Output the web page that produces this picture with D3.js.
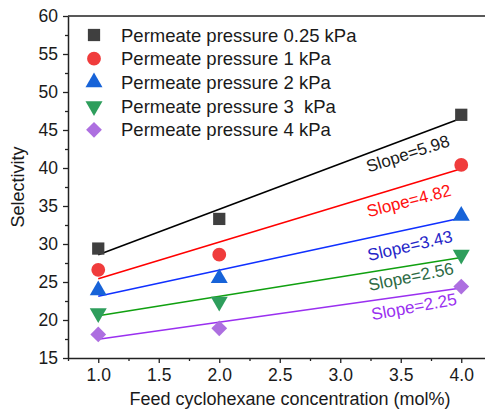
<!DOCTYPE html>
<html>
<head>
<meta charset="utf-8">
<script src="https://cdn.jsdelivr.net/npm/d3@7"></script>
<style>
  html, body { margin: 0; padding: 0; background: #fff; }
  svg { display: block; overflow: hidden; }
  text { font-family: Arial, "Liberation Sans", sans-serif; white-space: pre; }
</style>
</head>
<body>
<svg id="chart" width="485" height="412"></svg>
<script>
// Feed concentrations (mol%)
const concentrations = [1.0, 2.0, 4.0];

// Series names and measured selectivity at each concentration
const seriesNames = [
  "Permeate pressure 0.25 kPa",
  "Permeate pressure 1 kPa",
  "Permeate pressure 2 kPa",
  "Permeate pressure 3  kPa",
  "Permeate pressure 4 kPa"
];
const sel025 = [29.4, 33.3, 47.0];
const sel1   = [26.6, 28.6, 40.4];
const sel2   = [23.9, 25.5, 33.7];
const sel3   = [20.9, 22.4, 28.6];
const sel4   = [18.1, 18.9, 24.4];

// Fitted slopes of the linear trend lines
const slopes = [5.98, 4.82, 3.43, 2.56, 2.25];

// Axis ticks
const xTicks = [1.0, 1.5, 2.0, 2.5, 3.0, 3.5, 4.0];
const yTicks = [15, 20, 25, 30, 35, 40, 45, 50, 55, 60];

const seriesValues = [sel025, sel1, sel2, sel3, sel4];

// Marker shape, turn angle, colours and slope-label placement per series
const style = [
  { shape: d3.symbolSquare,   size: 150, turn: 0,   fill: "#3f3f3f", line: "#000000", text: "#1a1a1a", rot: -18,   lx: 408, ly: 154 },
  { shape: d3.symbolCircle,   size: 150, turn: 0,   fill: "#f03c3c", line: "#ff0000", text: "#ff1010", rot: -14.5, lx: 409, ly: 201 },
  { shape: d3.symbolTriangle, size: 125, turn: 0,   fill: "#1763d8", line: "#1030ff", text: "#2525c8", rot: -13,   lx: 410, ly: 246 },
  { shape: d3.symbolTriangle, size: 125, turn: 180, fill: "#2e9e5c", line: "#10a010", text: "#2c6a44", rot: -11.5, lx: 411, ly: 277 },
  { shape: d3.symbolSquare,   size: 125, turn: 45,  fill: "#ad6fe0", line: "#9a30f0", text: "#9a30f0", rot: -10.5, lx: 414, ly: 307 }
];

const svg = d3.select("#chart");
const plotLeft = 68, plotTop = 16, plotBottom = 358;

const x = d3.scaleLinear().domain([0.75, 4.25]).range([plotLeft, plotLeft + 3.5 * 121]);
const y = d3.scaleLinear().domain([15, 60]).range([plotBottom, plotTop]);

// Frame: top border
svg.append("line")
  .attr("x1", plotLeft).attr("x2", x(4.25)).attr("y1", plotTop).attr("y2", plotTop)
  .attr("stroke", "#222").attr("stroke-width", 1.5);

// X axis with minor ticks
const xMinor = d3.range(0.75, 4.3, 0.25).filter(v => !xTicks.some(t => Math.abs(t - v) < 1e-6));
svg.append("g").attr("transform", `translate(0,${plotBottom})`)
  .call(d3.axisBottom(x).tickValues(xMinor).tickSize(3).tickFormat(""))
  .call(g => g.select(".domain").remove())
  .selectAll("line").attr("stroke", "#222").attr("stroke-width", 1.3);

const xAxis = svg.append("g").attr("transform", `translate(0,${plotBottom})`)
  .call(d3.axisBottom(x).tickValues(xTicks).tickSize(5).tickSizeOuter(0).tickPadding(6).tickFormat(d3.format(".1f")));
xAxis.select(".domain").attr("stroke", "#222").attr("stroke-width", 1.5);
xAxis.selectAll("line").attr("stroke", "#222").attr("stroke-width", 1.3);
xAxis.selectAll("text").attr("font-size", 17.5).attr("fill", "#1a1a1a").attr("font-family", "Arial, 'Liberation Sans', sans-serif");

// Y axis with minor ticks
const yMinor = d3.range(17.5, 60, 5);
svg.append("g").attr("transform", `translate(${plotLeft},0)`)
  .call(d3.axisLeft(y).tickValues(yMinor).tickSize(3).tickFormat(""))
  .call(g => g.select(".domain").remove())
  .selectAll("line").attr("stroke", "#222").attr("stroke-width", 1.3);

const yAxis = svg.append("g").attr("transform", `translate(${plotLeft},0)`)
  .call(d3.axisLeft(y).tickValues(yTicks).tickSize(5).tickSizeOuter(0).tickPadding(5));
yAxis.select(".domain").attr("stroke", "#222").attr("stroke-width", 1.5);
yAxis.selectAll("line").attr("stroke", "#222").attr("stroke-width", 1.3);
yAxis.selectAll("text").attr("font-size", 17.5).attr("fill", "#1a1a1a").attr("font-family", "Arial, 'Liberation Sans', sans-serif");

// Axis titles
svg.append("text")
  .attr("x", 290).attr("y", 405)
  .attr("text-anchor", "middle").attr("font-size", 18).attr("fill", "#1a1a1a")
  .text("Feed cyclohexane concentration (mol%)");

svg.append("text")
  .attr("transform", `translate(24,187) rotate(-90)`)
  .attr("text-anchor", "middle").attr("font-size", 18).attr("fill", "#1a1a1a")
  .text("Selectivity");

// Trend lines: slope as stated, passing through the mean of the data
const xMean = d3.mean(concentrations);
seriesValues.forEach((vals, i) => {
  const yMean = d3.mean(vals);
  const b = yMean - slopes[i] * xMean;
  const x0 = d3.min(concentrations), x1 = d3.max(concentrations);
  svg.append("line")
    .attr("x1", x(x0)).attr("y1", y(slopes[i] * x0 + b))
    .attr("x2", x(x1)).attr("y2", y(slopes[i] * x1 + b))
    .attr("stroke", style[i].line).attr("stroke-width", 1.6);
});

// Markers
seriesValues.forEach((vals, i) => {
  const s = style[i];
  const sym = d3.symbol().type(s.shape).size(s.size);
  svg.append("g").selectAll("path")
    .data(vals.map((v, j) => [concentrations[j], v]))
    .join("path")
    .attr("d", sym)
    .attr("transform", d => `translate(${x(d[0])},${y(d[1])}) rotate(${s.turn})`)
    .attr("fill", s.fill);
});

// Slope labels
slopes.forEach((k, i) => {
  const s = style[i];
  svg.append("text")
    .attr("transform", `translate(${s.lx},${s.ly}) rotate(${s.rot})`)
    .attr("text-anchor", "middle").attr("dominant-baseline", "central")
    .attr("font-size", 17).attr("fill", s.text)
    .text(`Slope=${k.toFixed(2)}`);
});

// Legend
const legend = svg.append("g");
seriesNames.forEach((name, i) => {
  const s = style[i];
  const cy = 35 + i * 23.7;
  legend.append("path")
    .attr("d", d3.symbol().type(s.shape).size(s.size)())
    .attr("transform", `translate(94,${cy}) rotate(${s.turn})`)
    .attr("fill", s.fill);
  legend.append("text")
    .attr("x", 121).attr("y", cy)
    .attr("dominant-baseline", "central")
    .attr("font-size", 18.5).attr("fill", "#1a1a1a")
    .text(name);
});
</script>
</body>
</html>
